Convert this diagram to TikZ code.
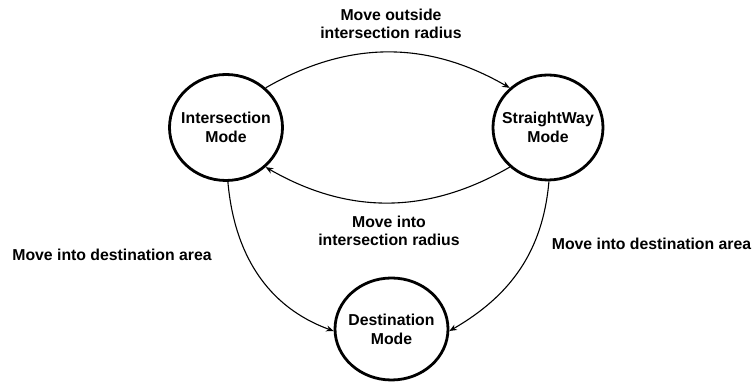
\documentclass[tikz,border=0pt]{standalone}
\usepackage{fontspec}
\setmainfont{Liberation Sans}
\usetikzlibrary{shapes.geometric,arrows.meta}
\tikzset{
  statenode/.style={ellipse, draw, line width=2.8pt, inner sep=-40pt,
    align=center, font=\bfseries\fontsize{15.8}{19}\selectfont},
  conn/.style={line width=1.1pt, -{Stealth[length=7.5pt,width=6pt]}},
  lbl/.style={align=center, anchor=base, inner sep=0pt,
    font=\bfseries\fontsize{15.8}{18.5}\selectfont}
}
\begin{document}
\begin{tikzpicture}[x=1pt,y=1pt]
\useasboundingbox (0,0) rectangle (753,382);
\node[statenode, minimum width=113pt, minimum height=106pt] (I) at (226,254.5) {Intersection\\Mode};
\node[statenode, minimum width=110pt, minimum height=105pt] (S) at (548,254.5) {StraightWay\\Mode};
\node[statenode, minimum width=113pt, minimum height=102pt] (D) at (391.5,53) {Destination\\Mode};

\draw[conn] (I.45) to[out=30,in=150] (S.134);
\draw[conn] (S.226) to[out=210,in=-30] (I.-45);
\draw[conn] (I.-88) to[out=-85,in=160] (D.182);
\draw[conn] (S.-89) to[out=-95,in=30] (D.-2);

\node[lbl] (t1) at (391,343) {Move outside\\intersection radius};
\node[lbl] (t2) at (389,136) {Move into\\intersection radius};
\node[lbl] (t3) at (112,121) {Move into destination area};
\node[lbl] (t4) at (651.5,132) {Move into destination area};
\end{tikzpicture}
\end{document}
